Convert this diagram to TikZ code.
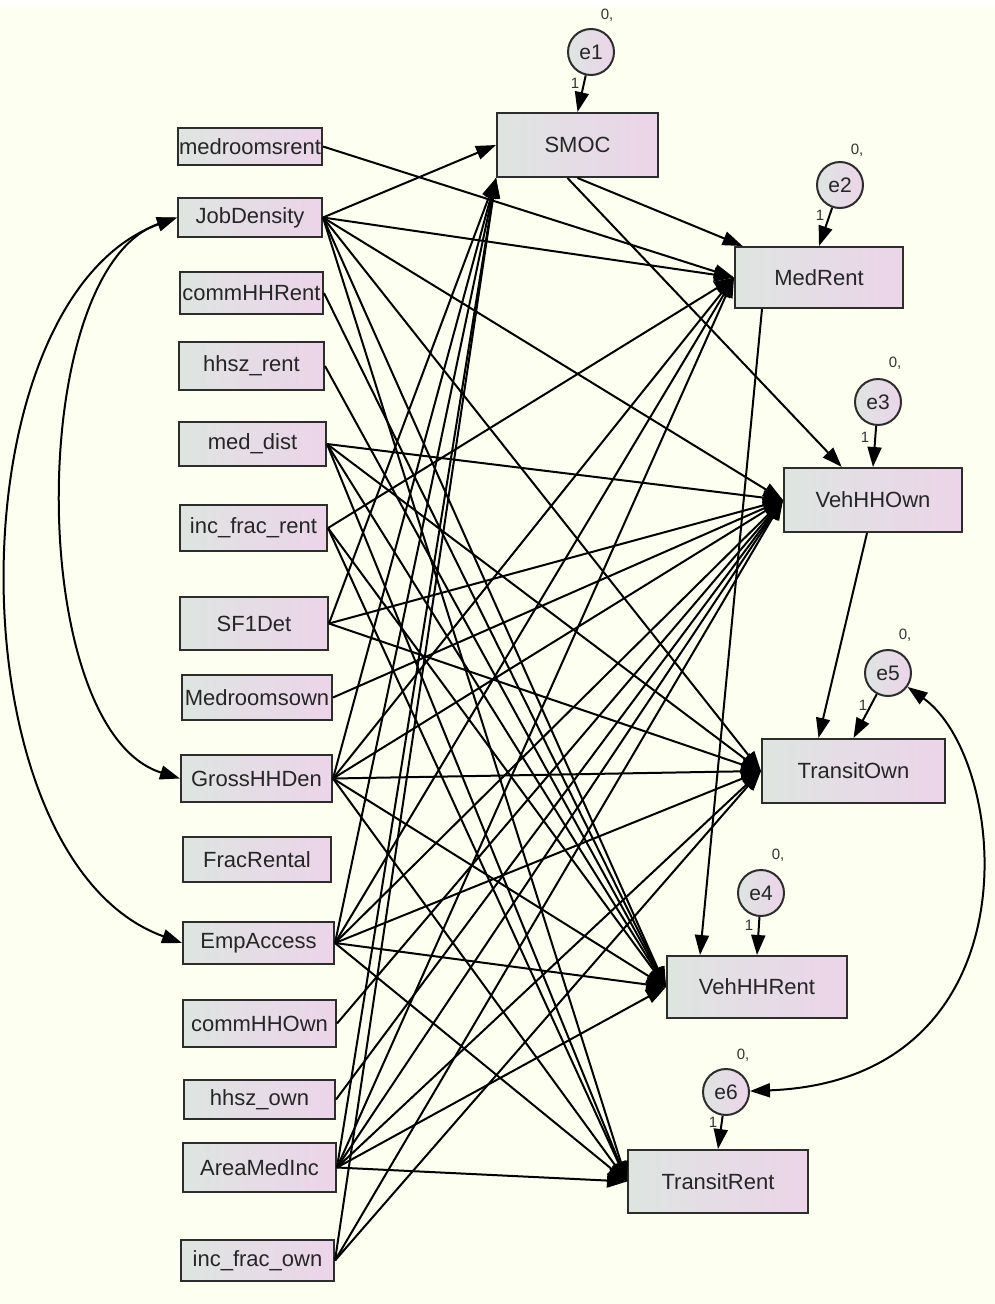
\documentclass[tikz,border=0pt]{standalone}
\usepackage{fontspec}
\setmainfont{Liberation Sans}
\usetikzlibrary{arrows.meta}

\definecolor{bgcream}{RGB}{253,255,240}
\definecolor{boxleft}{RGB}{222,229,225}
\definecolor{boxright}{RGB}{236,212,233}
\definecolor{boxline}{RGB}{45,45,45}

\tikzset{
  obsvar/.style={draw=boxline, line width=2pt, left color=boxleft, right color=boxright,
    inner sep=0pt, text=black!85, font=\fontsize{22}{26}\selectfont},
  errvar/.style={circle, draw=boxline, line width=2pt, left color=boxleft, right color=boxright,
    minimum size=46pt, inner sep=0pt, text=black!85, font=\fontsize{21}{25}\selectfont},
  parlabel/.style={inner sep=0pt, text=black!80, font=\fontsize{15}{17}\selectfont},
  regpath/.style={->, line width=2pt},
  covpath/.style={<->, line width=2pt},
}

\begin{document}
\begin{tikzpicture}[x=1pt, y=-1pt, >={Triangle[length=20pt,width=14pt]}]
\useasboundingbox (0,0) rectangle (995,1304);
\fill [bgcream] (0,0) rectangle (995,1304);
\fill [white] (0,0) rectangle (995,7);

% exogenous
\node [obsvar, minimum width=144pt, minimum height=37pt] (medrmrent) at (250,146.5) {medroomsrent};
\node [obsvar, minimum width=144pt, minimum height=39pt] (jobdens) at (250,217.5) {JobDensity};
\node [obsvar, minimum width=143pt, minimum height=42pt] (commrent) at (251.5,293) {commHHRent};
\node [obsvar, minimum width=145pt, minimum height=48pt] (hhszrent) at (251.5,366) {hhsz\_rent};
\node [obsvar, minimum width=147pt, minimum height=44pt] (meddist) at (252.5,444) {med\_dist};
\node [obsvar, minimum width=147pt, minimum height=46pt] (incrent) at (253.5,528) {inc\_frac\_rent};
\node [obsvar, minimum width=148pt, minimum height=53pt] (sfdet) at (254,623.5) {SF1Det};
\node [obsvar, minimum width=150pt, minimum height=45pt] (medrmown) at (257,697.5) {Medroomsown};
\node [obsvar, minimum width=151pt, minimum height=47pt] (grossden) at (256.5,778.5) {GrossHHDen};
\node [obsvar, minimum width=148pt, minimum height=45pt] (fracrent) at (257,859.5) {FracRental};
\node [obsvar, minimum width=151pt, minimum height=42pt] (empacc) at (258.5,943) {EmpAccess};
\node [obsvar, minimum width=153pt, minimum height=47pt] (commown) at (259.5,1023.5) {commHHOwn};
\node [obsvar, minimum width=151pt, minimum height=39pt] (hhszown) at (259.5,1099.5) {hhsz\_own};
\node [obsvar, minimum width=153pt, minimum height=49pt] (areainc) at (259.5,1167.5) {AreaMedInc};
\node [obsvar, minimum width=153pt, minimum height=41pt] (incown) at (257.5,1260.5) {inc\_frac\_own};

% endogenous
\node [obsvar, minimum width=161pt, minimum height=64pt] (smoc) at (577.5,145) {SMOC};
\node [obsvar, minimum width=168pt, minimum height=61pt] (medrent) at (819,277.5) {MedRent};
\node [obsvar, minimum width=178pt, minimum height=64pt] (vehown) at (873,500) {VehHHOwn};
\node [obsvar, minimum width=183pt, minimum height=64pt] (transown) at (853.5,771) {TransitOwn};
\node [obsvar, minimum width=180pt, minimum height=62pt] (vehrent) at (757,987) {VehHHRent};
\node [obsvar, minimum width=180pt, minimum height=63pt] (transrent) at (718,1181.5) {TransitRent};

% errors
\node [errvar] (e1) at (591,52) {e1};
\node [errvar] (e2) at (840,185) {e2};
\node [errvar] (e3) at (878,402) {e3};
\node [errvar] (e4) at (761,893) {e4};
\node [errvar] (e5) at (888,673) {e5};
\node [errvar] (e6) at (726,1092) {e6};

\node [parlabel] (e1v) at (607,15) {0,};
\node [parlabel] (e2v) at (857,150) {0,};
\node [parlabel] (e3v) at (895,363) {0,};
\node [parlabel] (e4v) at (778,855) {0,};
\node [parlabel] (e5v) at (905,635) {0,};
\node [parlabel] (e6v) at (743,1055) {0,};
\node [parlabel] (e1w) at (575,83) {1};
\node [parlabel] (e2w) at (820,215) {1};
\node [parlabel] (e3w) at (865,437) {1};
\node [parlabel] (e4w) at (749,925) {1};
\node [parlabel] (e5w) at (863,705) {1};
\node [parlabel] (e6w) at (713,1122) {1};

\draw [regpath] (e1) -- (smoc.north);
\draw [regpath] (e2) -- (medrent.north);
\draw [regpath] (e3) -- (vehown.north);
\draw [regpath] (e4) -- (vehrent.north);
\draw [regpath] (e5) -- (transown.north);
\draw [regpath] (e6) -- (transrent.north);

% SMOC
\draw [regpath] (jobdens.east) -- (smoc.west);
\draw [regpath] (sfdet.east) -- (smoc.south west);
\draw [regpath] (grossden.east) -- (smoc.south west);
\draw [regpath] (empacc.east) -- (smoc.south west);
\draw [regpath] (areainc.east) -- (smoc.south west);
\draw [regpath] (incown.east) -- (smoc.south west);

% MedRent
\draw [regpath] (medrmrent.east) -- (medrent.west);
\draw [regpath] (jobdens.east) -- (medrent.west);
\draw [regpath] (smoc.south) -- (medrent);
\draw [regpath] (incrent.east) -- (medrent.west);
\draw [regpath] (grossden.east) -- (medrent.west);
\draw [regpath] (empacc.east) -- (medrent.west);
\draw [regpath] (areainc.east) -- (medrent.west);

% VehHHOwn
\draw [regpath] ([xshift=-10pt]smoc.south) -- (vehown);
\draw [regpath] (jobdens.east) -- (vehown.west);
\draw [regpath] (meddist.east) -- (vehown.west);
\draw [regpath] (sfdet.east) -- (vehown.west);
\draw [regpath] (medrmown.east) -- (vehown.west);
\draw [regpath] (grossden.east) -- (vehown.west);
\draw [regpath] (empacc.east) -- (vehown.west);
\draw [regpath] (commown.east) -- (vehown.west);
\draw [regpath] (hhszown.east) -- (vehown.west);
\draw [regpath] (areainc.east) -- (vehown.west);
\draw [regpath] (incown.east) -- (vehown.west);

% TransitOwn
\draw [regpath] ([xshift=-6pt]vehown.south) -- ([xshift=-35pt]transown.north);
\draw [regpath] (jobdens.east) -- (transown.west);
\draw [regpath] (meddist.east) -- (transown.west);
\draw [regpath] (sfdet.east) -- (transown.west);
\draw [regpath] (grossden.east) -- (transown.west);
\draw [regpath] (empacc.east) -- (transown.west);
\draw [regpath] (areainc.east) -- (transown.west);
\draw [regpath] (incown.east) -- (transown.west);

% VehHHRent
\draw [regpath] ([xshift=-57pt]medrent.south) -- ([xshift=-57pt]vehrent.north);
\draw [regpath] (jobdens.east) -- (vehrent.west);
\draw [regpath] (commrent.east) -- (vehrent.west);
\draw [regpath] (hhszrent.east) -- (vehrent.west);
\draw [regpath] (meddist.east) -- (vehrent.west);
\draw [regpath] (incrent.east) -- (vehrent.west);
\draw [regpath] (grossden.east) -- (vehrent.west);
\draw [regpath] (empacc.east) -- (vehrent.west);
\draw [regpath] (areainc.east) -- (vehrent.west);

% TransitRent
\draw [regpath] (jobdens.east) -- (transrent.west);
\draw [regpath] (meddist.east) -- (transrent.west);
\draw [regpath] (incrent.east) -- (transrent.west);
\draw [regpath] (grossden.east) -- (transrent.west);
\draw [regpath] (empacc.east) -- (transrent.west);
\draw [regpath] (areainc.east) -- (transrent.west);

% covariances
\draw [covpath] (jobdens.west) .. controls (25,270) and (25,730) .. (grossden.west);
\draw [covpath] (jobdens.west) .. controls (-49,300) and (-49,860) .. (empacc.west);
\draw [covpath] (e5) .. controls (1010,760) and (1040,1080) .. (e6);

\end{tikzpicture}
\end{document}
